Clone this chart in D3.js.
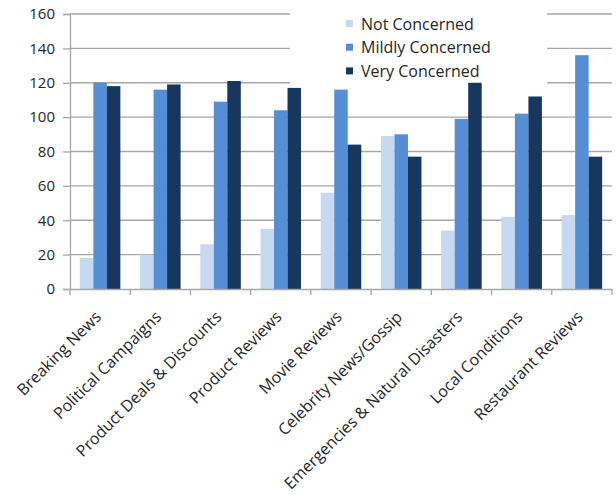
<!DOCTYPE html>
<html><head><meta charset="utf-8">
<script src="https://cdn.jsdelivr.net/npm/d3@7"></script>
<style>body{margin:0;background:#fff;}svg{display:block;}</style>
</head><body>
<svg id="chart" width="616" height="500"></svg>
<script>
const categories = ["Breaking News","Political Campaigns","Product Deals & Discounts","Product Reviews","Movie Reviews","Celebrity News/Gossip","Emergencies & Natural Disasters","Local Conditions","Restaurant Reviews"];
const seriesNames = ["Not Concerned","Mildly Concerned","Very Concerned"];
const notConcerned = [18,20,26,35,56,89,34,42,43];
const mildlyConcerned = [120,116,109,104,116,90,99,102,136];
const veryConcerned = [118,119,121,117,84,77,120,112,77];
const yTicks = [0,20,40,60,80,100,120,140,160];
const colors = ["#c6d9f1","#558ed5","#17375e"];

(function(){
const series = [notConcerned, mildlyConcerned, veryConcerned];
const svg = d3.select("#chart");
const pLeft = 70, pRight = 612, pTop = 14, pBottom = 289;
const font = "'Open Sans', sans-serif";

const x = d3.scaleBand().domain(categories).range([pLeft, pRight]).paddingInner(0).paddingOuter(0);
const xs = d3.scaleBand().domain(seriesNames).range([0, x.bandwidth()]).paddingOuter(0.73).paddingInner(0);
const y = d3.scaleLinear().domain([0,160]).range([pBottom, pTop]);

svg.append("g").selectAll("line").data(yTicks.filter(d=>d>0)).join("line")
  .attr("x1", pLeft).attr("x2", pRight)
  .attr("y1", d=>y(d)).attr("y2", d=>y(d))
  .attr("stroke", "#a6a6a6").attr("stroke-width", 1.3);

svg.append("rect").attr("x", 290).attr("y", 0).attr("width", 257).attr("height", 92).attr("fill", "#fff");

const g = svg.append("g");
series.forEach((vals, si) => {
  g.append("g").selectAll("rect").data(vals).join("rect")
    .attr("x", (d,i)=>x(categories[i]) + xs(seriesNames[si]))
    .attr("width", xs.bandwidth())
    .attr("y", d=>y(d))
    .attr("height", d=>y(0)-y(d))
    .attr("fill", colors[si]);
});

const yAxis = d3.axisLeft(y).tickValues(yTicks).tickSize(7).tickPadding(8);
const ya = svg.append("g").attr("transform", `translate(${pLeft},0)`).call(yAxis);
ya.select(".domain").attr("stroke", "#a6a6a6").attr("stroke-width", 1.3);
ya.selectAll(".tick line").attr("stroke", "#a6a6a6").attr("stroke-width", 1.3);
ya.selectAll(".tick text").attr("font-family", font).attr("font-size", 15).attr("fill", "#262626");

const xAxis = d3.axisBottom(x).tickSize(0).tickFormat("");
const xa = svg.append("g").attr("transform", `translate(0,${pBottom})`).call(xAxis);
xa.select(".domain").attr("stroke", "#a6a6a6").attr("stroke-width", 1.3);
xa.selectAll(".tick").remove();
const bounds = categories.map(c=>x(c)).concat([pRight]);
xa.append("g").selectAll("line").data(bounds).join("line")
  .attr("x1", d=>d).attr("x2", d=>d).attr("y1", 0).attr("y2", 6)
  .attr("stroke", "#a6a6a6").attr("stroke-width", 1.3);
xa.append("g").selectAll("text").data(categories).join("text")
  .attr("transform", d=>`translate(${x(d)+x.bandwidth()/2-2},${25}) rotate(-45)`)
  .attr("text-anchor", "end")
  .attr("dy", "0.35em")
  .attr("font-family", font).attr("font-size", 16).attr("fill", "#262626")
  .text(d=>d);

const lg = svg.append("g");
seriesNames.forEach((n, i) => {
  const yy = 24 + i*23.7;
  lg.append("rect").attr("x", 346).attr("y", yy-4).attr("width", 7).attr("height", 7).attr("fill", colors[i]);
  lg.append("text").attr("x", 361).attr("y", yy).attr("dy","0.35em")
    .attr("font-family", font).attr("font-size", 16).attr("fill", "#262626").text(n);
});
})();
</script>
</body></html>
